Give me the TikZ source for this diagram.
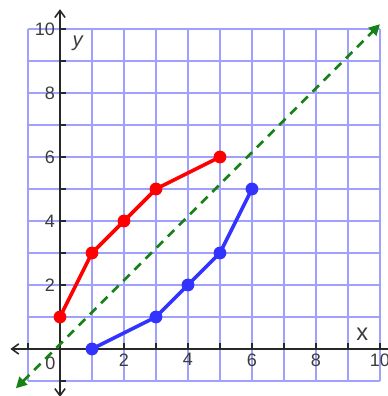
\documentclass[tikz,border=0pt]{standalone}
\usepackage{fontspec}
\setmainfont{Liberation Sans}
\definecolor{gridBlue}{RGB}{160, 160, 255}
\definecolor{ptRed}{RGB}{255, 0, 0}
\definecolor{ptBlue}{RGB}{51, 51, 255}
\definecolor{lineGreen}{RGB}{20, 130, 20}
\definecolor{axisGray}{RGB}{40, 40, 40}
\definecolor{labelGray}{RGB}{60, 60, 60}
\usetikzlibrary{arrows.meta}

\begin{document}
\begin{tikzpicture}[x=1cm, y=1cm]
    \tikzset{
        gridline/.style={draw=gridBlue, line width=1.3pt},
        axis/.style={draw=axisGray, line width=1.4pt, -{Straight Barb[length=2.2mm, width=3.2mm]}},
        tick/.style={draw=axisGray, line width=1.2pt},
        numlabel/.style={text=labelGray, font=\fontsize{16}{18}\selectfont, inner sep=1pt},
        redpath/.style={draw=ptRed, line width=3.2pt, line join=round},
        bluepath/.style={draw=ptBlue, line width=3.2pt, line join=round},
        reddot/.style={fill=ptRed},
        bluedot/.style={fill=ptBlue},
        mirror/.style={draw=lineGreen, line width=2.4pt, dash pattern=on 8pt off 6pt, {Triangle[length=3.4mm, width=3.4mm]}-{Triangle[length=3.4mm, width=3.4mm]}}
    }
    \useasboundingbox (-1.875,-1.47) rectangle (10.25,10.906);

    % grid
    \draw[gridline] (-1,-1) grid (10,10);

    % axes
    \coordinate (xleft) at (-1.55,0);
    \coordinate (xright) at (10.4,0);
    \coordinate (ydown) at (0,-1.5);
    \coordinate (yup) at (0,10.62);
    \draw[axis] (xright) -- (xleft);
    \draw[axis] (ydown) -- (yup);
    \draw[axis] (0,0) -- (ydown);
    \foreach \k in {-1,1,2,...,10} {
        \draw[tick] (\k,0) -- (\k,0.2);
        \draw[tick] (0,\k) -- (0.2,\k);
    }
    \foreach \k in {2,4,...,10} {
        \node[numlabel, anchor=north] (xl\k) at (\k,-0.1) {\k};
        \node[numlabel, anchor=east] (yl\k) at (-0.12,\k) {\k};
    }
    \node[numlabel] (zero) at (-0.3,-0.45) {0};
    \node[numlabel, font=\fontsize{21}{23}\selectfont] (xname) at (9.45,0.45) {x};
    \node[numlabel, font=\fontsize{18}{20}\itshape\selectfont] (yname) at (0.55,9.55) {y};

    % line of reflection
    \coordinate (gstart) at (-1.38,-1.23);
    \coordinate (gend) at (10.0,10.15);
    \draw[mirror] (gstart) -- (gend);

    % red figure
    \coordinate (r1) at (0,1);
    \coordinate (r2) at (1,3);
    \coordinate (r3) at (2,4);
    \coordinate (r4) at (3,5);
    \coordinate (r5) at (5,6);
    \draw[redpath] (r1) -- (r2) -- (r3) -- (r4) -- (r5);
    \foreach \p in {r1,r2,r3,r4,r5} \fill[reddot] (\p) circle (0.2);

    % blue figure
    \coordinate (b1) at (1,0);
    \coordinate (b2) at (3,1);
    \coordinate (b3) at (4,2);
    \coordinate (b4) at (5,3);
    \coordinate (b5) at (6,5);
    \draw[bluepath] (b1) -- (b2) -- (b3) -- (b4) -- (b5);
    \foreach \p in {b1,b2,b3,b4,b5} \fill[bluedot] (\p) circle (0.2);
\end{tikzpicture}
\end{document}
